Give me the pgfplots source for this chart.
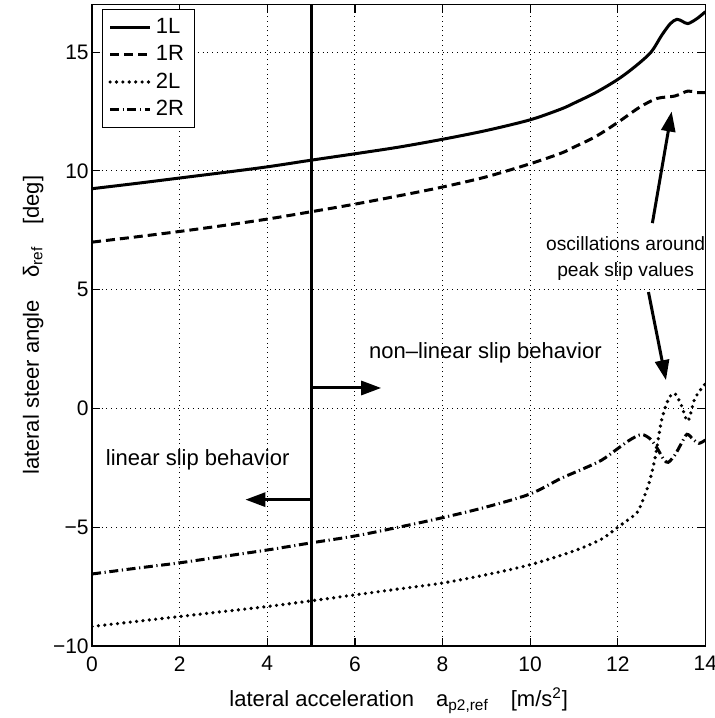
\documentclass[border=0pt]{standalone}
\usepackage{pgfplots}
\pgfplotsset{compat=1.18}
\usepackage{fontspec}
\setmainfont{Liberation Sans}
\usetikzlibrary{arrows.meta}
\begin{document}
\begin{tikzpicture}
\begin{axis}[
  scale only axis,
  width=306.5pt, height=320.5pt,
  xmin=0, xmax=14, ymin=-10, ymax=17,
  xtick={0,2,...,14},
  ytick={-10,-5,0,5,10,15},
  yticklabels={−10,−5,0,5,10,15},
  grid=major,
  major grid style={dotted, black, line width=0.5pt},
  tick align=inside,
  major tick length=4pt,
  axis line style={black, line width=0.6pt},
  tick style={black, line width=0.6pt},
  /pgf/number format/assume math mode=true,
  tick label style={font=\fontsize{10.5}{12}\selectfont},
  yticklabel style={inner xsep=1.5pt},
  xticklabel style={inner ysep=5pt},
  label style={font=\fontsize{11}{13}\selectfont},
  xlabel={lateral acceleration\quad a\textsubscript{p2,ref}\quad[m/s\textsuperscript{2}]},
  ylabel={lateral steer angle\quad δ\textsubscript{ref}\quad[deg]},
  xlabel style={at={(axis description cs:0.5,-0.095)}, anchor=base},
  ylabel style={at={(axis description cs:-0.096,0.5)}, anchor=center},
  legend style={at={(axis description cs:0.016,0.993)}, anchor=north west,
    draw=black, font=\fontsize{11}{13}\selectfont,
    row sep=0.5pt, inner xsep=3pt, inner ysep=2.5pt},
  legend cell align=left,
  legend image code/.code={\draw[#1] (0pt,0pt) -- (20pt,0pt);},
]
\addplot[black, line width=1.5pt, smooth] coordinates {
(0,9.25)(1,9.47)(2,9.7)(3,9.93)(4,10.17)(5,10.45)(6,10.72)(7,11.0)(8,11.33)(9,11.7)(10,12.15)(10.7,12.6)(11,12.85)(11.5,13.3)(12,13.85)(12.4,14.4)(12.76,15.0)(13.0,15.7)(13.2,16.2)(13.35,16.38)(13.47,16.3)(13.6,16.2)(13.8,16.4)(14,16.7)};
\addlegendentry{1L}
\addplot[black, line width=1.5pt, smooth, dash pattern=on 4.5pt off 2.5pt] coordinates {
(0,7.0)(1,7.22)(2,7.45)(3,7.7)(4,7.97)(5,8.28)(6,8.6)(7,8.95)(8,9.32)(9,9.75)(10,10.3)(10.7,10.74)(11,11.0)(11.5,11.45)(12,12.04)(12.5,12.68)(12.9,13.05)(13.3,13.15)(13.6,13.36)(13.8,13.3)(14,13.3)};
\addlegendentry{1R}
\addplot[black, line width=1.8pt, smooth, dash pattern=on 0pt off 3.2pt, line cap=round] coordinates {
(0,-9.18)(1,-8.97)(2,-8.76)(3,-8.55)(4,-8.34)(5,-8.1)(6,-7.85)(7,-7.6)(8,-7.35)(9,-7.0)(10,-6.58)(11,-6.0)(11.63,-5.5)(12,-5.0)(12.3,-4.6)(12.47,-4.3)(12.7,-3.22)(12.85,-2.1)(13.0,-0.5)(13.16,0.4)(13.3,0.63)(13.45,0.14)(13.6,-0.53)(13.76,0.42)(14,1.05)};
\addlegendentry{2L}
\addplot[black, line width=1.5pt, smooth, dash pattern=on 4.5pt off 1.8pt on 0.6pt off 1.8pt] coordinates {
(0,-6.97)(1,-6.73)(2,-6.5)(3,-6.23)(4,-5.96)(5,-5.66)(6,-5.37)(7,-5.0)(8,-4.6)(9,-4.15)(10,-3.6)(10.7,-2.95)(11.2,-2.55)(11.63,-2.18)(12,-1.69)(12.3,-1.3)(12.55,-1.1)(12.75,-1.3)(12.9,-1.68)(13.05,-2.15)(13.15,-2.27)(13.3,-1.97)(13.45,-1.48)(13.58,-1.09)(13.72,-1.3)(13.85,-1.47)(14,-1.33)};
\addlegendentry{2R}
\addplot[black, line width=1.5pt, forget plot] coordinates {(5,-10)(5,17)};
% annotations
\draw[black, line width=1.5pt, -{Triangle[length=10pt,width=7pt]}] (axis cs:5,0.86) -- (axis cs:6.6,0.86);
\draw[black, line width=1.5pt, -{Triangle[length=10pt,width=7pt]}] (axis cs:5,-3.84) -- (axis cs:3.5,-3.84);
\node[font=\fontsize{11}{13}\selectfont] at (axis cs:8.98,2.36) {non\textendash linear slip behavior};
\node[font=\fontsize{11}{13}\selectfont] at (axis cs:2.41,-2.15) {linear slip behavior};
\node[font=\fontsize{9.6}{11}\selectfont, align=center, inner sep=0pt] at (axis cs:12.18,6.3) {oscillations around\\[2pt]peak slip values};
\draw[black, line width=1.5pt, -{Triangle[length=10pt,width=7pt]}] (axis cs:12.79,7.8) -- (axis cs:13.23,12.5);
\draw[black, line width=1.5pt, -{Triangle[length=10pt,width=7pt]}] (axis cs:12.7,4.9) -- (axis cs:13.1,1.19);
\coordinate (ll) at (rel axis cs:0,0);
\coordinate (ur) at (rel axis cs:1,1);
\end{axis}
\pgfresetboundingbox
\path ([shift={(-46pt,-36pt)}]ll) rectangle ([shift={(4.5pt,2.3pt)}]ur);
\end{tikzpicture}
\end{document}
